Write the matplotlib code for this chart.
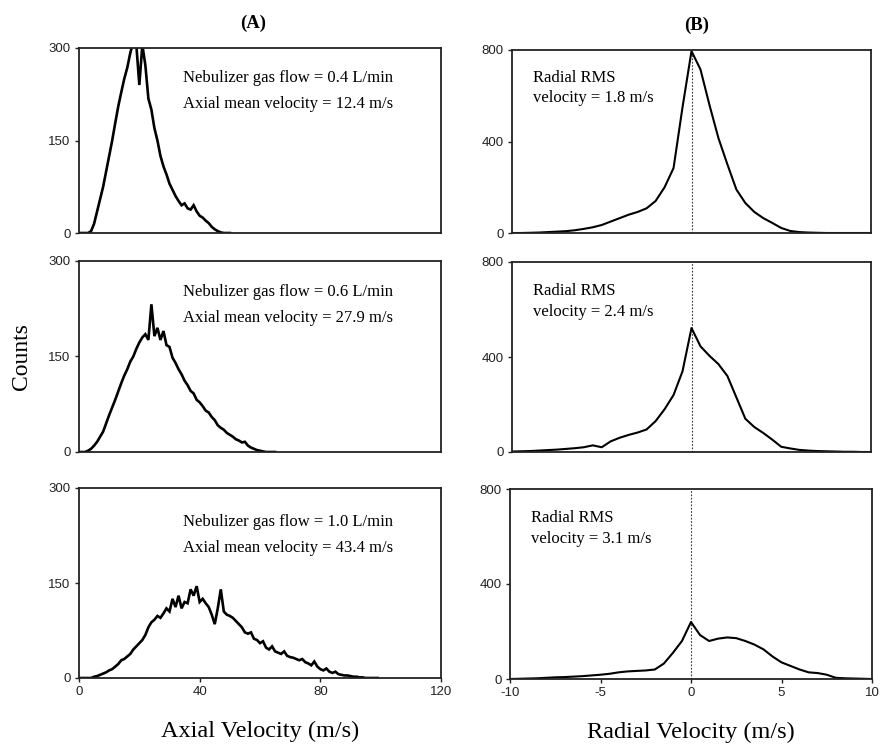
import matplotlib
matplotlib.use("Agg")
import matplotlib.pyplot as plt
import numpy as np

plt.rcParams["axes.unicode_minus"] = False

# ---- Axial velocity histograms (1 m/s bins), counts per bin ----
axial_v_04 = list(range(0, 51))
axial_c_04 = [0, 0, 0, 0, 3, 15, 35, 55, 75, 100,
              125, 150, 178, 205, 228, 250, 268, 292, 310, 305,
              240, 305, 272, 218, 200, 170, 150, 125, 108, 95,
              80, 70, 60, 52, 45, 48, 40, 38, 45, 35,
              28, 25, 20, 16, 10, 6, 3, 1, 0, 0, 0]

axial_v_06 = list(range(0, 66))
axial_c_06 = [0, 0, 0, 2, 5, 10, 16, 24, 32, 45,
              58, 70, 82, 95, 108, 120, 130, 142, 150, 162,
              172, 180, 185, 176, 232, 182, 195, 176, 190, 168,
              165, 148, 140, 130, 122, 112, 105, 96, 92, 82,
              78, 72, 65, 62, 55, 50, 42, 38, 35, 30,
              27, 24, 20, 18, 15, 16, 10, 7, 5, 3,
              2, 1, 0, 0, 0, 0]

axial_v_10 = list(range(0, 100))
axial_c_10 = [0, 0, 0, 0, 0, 2, 3, 5, 7, 9,
              12, 14, 18, 22, 28, 30, 34, 38, 45, 50,
              55, 60, 68, 80, 88, 92, 98, 95, 102, 110,
              105, 125, 112, 130, 110, 120, 118, 140, 130, 145,
              120, 125, 118, 112, 100, 85, 110, 140, 105, 100,
              98, 95, 90, 85, 80, 72, 70, 72, 62, 60,
              55, 58, 48, 45, 50, 42, 40, 38, 42, 35,
              33, 32, 30, 28, 30, 25, 23, 20, 26, 18,
              14, 12, 15, 10, 8, 10, 6, 5, 4, 4,
              3, 2, 2, 1, 1, 0, 0, 0, 0, 0]

# ---- Radial velocity distributions (0.5 m/s steps) ----
radial_v = [x / 2 for x in range(-20, 21)]
radial_c_04 = [0, 0, 1, 2, 4, 6, 8, 12, 18, 25,
               35, 50, 65, 80, 92, 108, 140, 200, 284, 550,
               795, 715, 560, 415, 300, 190, 131, 92, 65, 44,
               22, 9, 4, 2, 1, 0, 0, 0, 0, 0, 0]
radial_c_06 = [2, 3, 4, 6, 8, 10, 13, 16, 20, 28,
               20, 45, 60, 72, 82, 95, 130, 180, 240, 340,
               522, 445, 405, 370, 320, 230, 140, 105, 80, 52,
               22, 15, 9, 6, 4, 3, 2, 1, 1, 0, 0]
radial_c_10 = [0, 1, 2, 3, 5, 7, 8, 10, 12, 15,
               18, 22, 28, 32, 34, 36, 40, 65, 110, 160,
               240, 185, 160, 170, 175, 172, 160, 145, 125, 95,
               70, 55, 40, 28, 25, 18, 5, 3, 2, 1, 0]

flow_labels = ["0.4", "0.6", "1.0"]
axial_means = ["12.4", "27.9", "43.4"]
radial_rms = ["1.8", "2.4", "3.1"]

axial_ticks = [0, 40, 80, 120]
axial_yticks = [0, 150, 300]
radial_ticks = [-10, -5, 0, 5, 10]
radial_yticks = [0, 400, 800]

serif = "Liberation Serif"
sans = "Liberation Sans"

W, H = 883, 746
fig = plt.figure(figsize=(W / 100, H / 100), dpi=100)


def frame(left, top, right, bottom):
    return fig.add_axes([left / W, 1 - bottom / H, (right - left) / W, (bottom - top) / H])


left_boxes = [(79, 48, 441, 233), (79, 261, 441, 452), (79, 488, 441, 678)]
right_boxes = [(512, 50, 871, 233), (512, 262, 871, 452), (510, 489, 872, 679)]

axial_data = [(axial_v_04, axial_c_04), (axial_v_06, axial_c_06), (axial_v_10, axial_c_10)]
radial_data = [radial_c_04, radial_c_06, radial_c_10]


def style(ax, show_x):
    for s in ax.spines.values():
        s.set_linewidth(1.3)
        s.set_color("#222222")
    ax.tick_params(direction="out", length=3, width=1, colors="#222222",
                   labelsize=9.5, pad=3)
    for lab in ax.get_yticklabels() + ax.get_xticklabels():
        lab.set_fontfamily(sans)
    if not show_x:
        ax.tick_params(axis="x", bottom=False, labelbottom=False)


for i, (box, (v, c)) in enumerate(zip(left_boxes, axial_data)):
    ax = frame(*box)
    ax.plot(v, c, color="black", lw=1.9, solid_joinstyle="miter")
    ax.set_xlim(0, 120)
    ax.set_ylim(0, 300)
    ax.set_xticks(axial_ticks)
    ax.set_yticks(axial_yticks)
    style(ax, i == 2)
    ax.text(0.288, 0.84 if i != 2 else 0.82,
            f"Nebulizer gas flow = {flow_labels[i]} L/min",
            transform=ax.transAxes, family=serif, fontsize=12, va="center")
    ax.text(0.288, 0.70 if i != 2 else 0.685,
            f"Axial mean velocity = {axial_means[i]} m/s",
            transform=ax.transAxes, family=serif, fontsize=12, va="center")
    if i == 0:
        ax.text(0.48, 1.0, "(A)", transform=ax.transAxes, ha="center", va="bottom",
                family=serif, fontweight="bold", fontsize=13.5)
        ax.texts[-1].set_y(1.0 + 16 / 185)
    if i == 1:
        ax.set_ylabel("Counts", family=serif, fontsize=17, labelpad=12)
    if i == 2:
        ax.set_xlabel("Axial Velocity (m/s)", family=serif, fontsize=17.5, labelpad=16)

for i, (box, c) in enumerate(zip(right_boxes, radial_data)):
    ax = frame(*box)
    ax.axvline(0, color="#333333", lw=0.8, ls=(0, (1.5, 1.5)))
    ax.plot(radial_v, c, color="black", lw=1.5)
    ax.set_xlim(-10, 10)
    ax.set_ylim(0, 800)
    ax.set_xticks(radial_ticks)
    ax.set_yticks(radial_yticks)
    style(ax, i == 2)
    ax.text(0.058, 0.845, "Radial RMS", transform=ax.transAxes,
            family=serif, fontsize=12, va="center")
    ax.text(0.058, 0.735, f"velocity = {radial_rms[i]} m/s", transform=ax.transAxes,
            family=serif, fontsize=12, va="center")
    if i == 0:
        ax.text(0.515, 1.0 + 16 / 183, "(B)", transform=ax.transAxes, ha="center",
                va="bottom", family=serif, fontweight="bold", fontsize=13.5)
    if i == 2:
        ax.set_xlabel("Radial Velocity (m/s)", family=serif, fontsize=17.5, labelpad=16)

fig.savefig("out.png", dpi=100)
